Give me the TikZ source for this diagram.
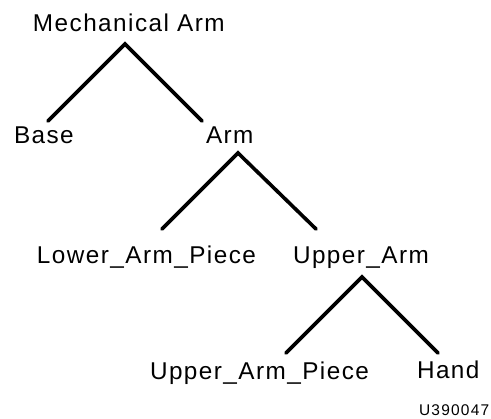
\documentclass[tikz,border=0pt]{standalone}
\usepackage{fontspec}
\setmainfont{Liberation Sans}
\begin{document}
\begin{tikzpicture}[x=1pt,y=-1pt,
  lbl/.style={anchor=base west,inner sep=0pt,outer sep=0pt,
    font=\fontsize{24.3}{27}\selectfont\addfontfeature{LetterSpace=6}},
  code/.style={anchor=base west,inner sep=0pt,outer sep=0pt,
    font=\fontsize{15.5}{18}\selectfont\addfontfeature{LetterSpace=8}},
  branch/.style={line width=3.6pt,line cap=round,line join=miter}]
\useasboundingbox (0,0) rectangle (491,419);
% nodes
\node[lbl] (root) at (33,31.7) {Mechanical Arm};
\node[lbl] (base) at (14,144) {Base};
\node[lbl] (arm) at (206,144) {Arm};
\node[lbl] (lap) at (37,263.5) {Lower\_Arm\_Piece};
\node[lbl] (ua) at (293,263.5) {Upper\_Arm};
\node[lbl] (uap) at (150,380) {Upper\_Arm\_Piece};
\node[lbl] (hand) at (417,379) {Hand};
\node[code] (id) at (419,416) {U390047};
% connector points
\coordinate (root-j) at (125,44);
\coordinate (base-t) at (48,121);
\coordinate (arm-t) at (202,121);
\coordinate (arm-j) at (238,153);
\coordinate (lap-t) at (162,229);
\coordinate (ua-t) at (316,229);
\coordinate (ua-j) at (362,277);
\coordinate (uap-t) at (286,353);
\coordinate (hand-t) at (438,353);
% connectors
\draw[branch] (base-t) -- (root-j) -- (arm-t);
\draw[branch] (lap-t) -- (arm-j) -- (ua-t);
\draw[branch] (uap-t) -- (ua-j) -- (hand-t);
\end{tikzpicture}
\end{document}
